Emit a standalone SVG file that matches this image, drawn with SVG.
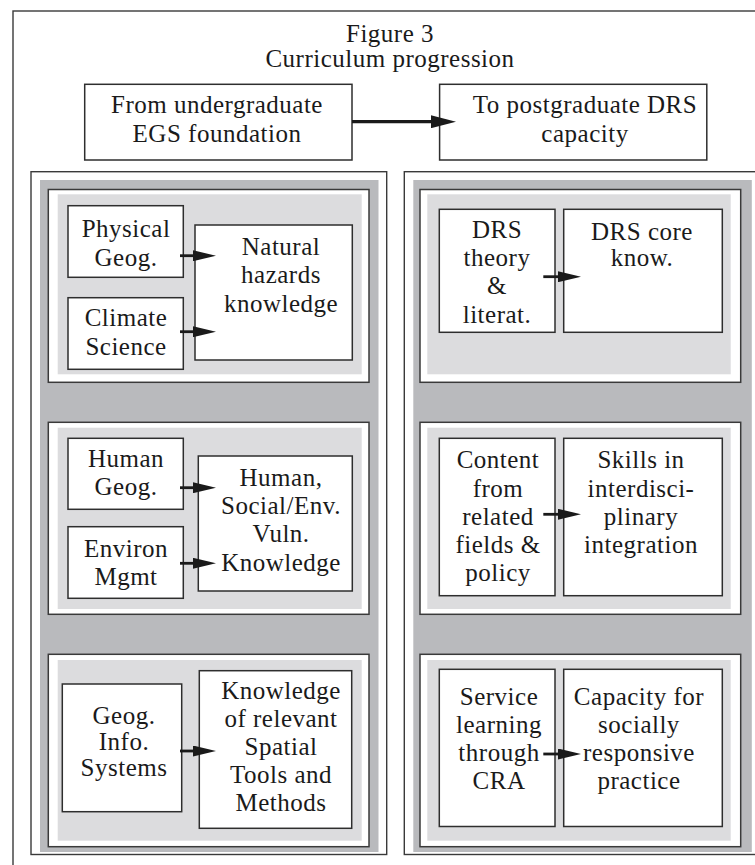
<svg xmlns="http://www.w3.org/2000/svg" width="755" height="865" viewBox="0 0 755 865">
<style>
  .frame { fill: #ffffff; stroke: #3a3a3a; stroke-width: 1.4; }
  .panel { fill: #ffffff; stroke: #3a3a3a; stroke-width: 1.4; }
  .gray { fill: #b9babd; stroke: none; }
  .sect { fill: #ffffff; stroke: #3a3a3a; stroke-width: 1.5; }
  .light { fill: #dcdcde; stroke: none; }
  .box { fill: #ffffff; stroke: #2e2e2e; stroke-width: 1.5; }
  text { font-family: "Liberation Serif", "Times New Roman", serif; font-size: 25px; fill: #1a1a1a; text-anchor: middle; letter-spacing: 0.5px; }
  .shaft { stroke: #1a1a1a; stroke-width: 2.8; fill: none; }
  .shaftTop { stroke: #1a1a1a; stroke-width: 3.2; fill: none; }
</style>
<defs>
  <marker id="ah" markerUnits="userSpaceOnUse" markerWidth="23" markerHeight="11" refX="11" refY="5.5" orient="auto">
    <path d="M0,0 L23,5.5 L0,11 Z" fill="#1a1a1a"/>
  </marker>
  <marker id="ahTop" markerUnits="userSpaceOnUse" markerWidth="25" markerHeight="13" refX="12" refY="6.5" orient="auto">
    <path d="M0,0 L25,6.5 L0,13 Z" fill="#1a1a1a"/>
  </marker>
</defs>

<rect class="frame" x="13" y="11" width="800" height="900"/>

<g id="title">
  <text x="390" y="42">Figure 3</text>
  <text x="390" y="67">Curriculum progression</text>
</g>

<g id="from-undergrad">
  <rect class="box" x="84.7" y="84.3" width="267.3" height="75.7"/>
  <text x="217" y="113">From undergraduate</text>
  <text x="217" y="142">EGS foundation</text>
</g>
<g id="to-postgrad">
  <rect class="box" x="439.6" y="84.3" width="267.2" height="75.7"/>
  <text x="585" y="113">To postgraduate DRS</text>
  <text x="585" y="142">capacity</text>
</g>

<g id="left-panel">
  <rect class="panel" x="31" y="171.7" width="355.7" height="682.8"/>
  <rect class="gray" x="40" y="180" width="338.5" height="672"/>
  <rect class="sect" x="48.3" y="189.5" width="320.7" height="192.8"/>
  <rect class="light" x="57.7" y="194.3" width="304" height="180"/>
  <rect class="sect" x="48.3" y="422.3" width="320.7" height="192"/>
  <rect class="light" x="57.7" y="427.7" width="304" height="181.3"/>
  <rect class="sect" x="48.3" y="654.3" width="320.7" height="192.4"/>
  <rect class="light" x="57.7" y="660" width="304" height="180.7"/>
</g>

<g id="right-panel">
  <rect class="panel" x="404.3" y="171.7" width="355.7" height="682.8"/>
  <rect class="gray" x="413.3" y="180" width="338.5" height="672"/>
  <rect class="sect" x="420" y="189.5" width="320.7" height="192.8"/>
  <rect class="light" x="427.3" y="194.3" width="303.4" height="180"/>
  <rect class="sect" x="420" y="422.3" width="320.7" height="192"/>
  <rect class="light" x="427.3" y="427.7" width="303.4" height="181.3"/>
  <rect class="sect" x="420" y="654.3" width="320.7" height="192.4"/>
  <rect class="light" x="427.3" y="660" width="303.4" height="180.7"/>
</g>

<g id="physical-geog">
  <rect class="box" x="68" y="205.7" width="115.3" height="71.6"/>
  <text x="126" y="237">Physical</text>
  <text x="126" y="266">Geog.</text>
</g>
<g id="climate-science">
  <rect class="box" x="68" y="297.7" width="115.3" height="71.6"/>
  <text x="126" y="326">Climate</text>
  <text x="126" y="354.5">Science</text>
</g>
<g id="natural-hazards">
  <rect class="box" x="195" y="225" width="157.3" height="135"/>
  <text x="281" y="254.5">Natural</text>
  <text x="281" y="283">hazards</text>
  <text x="281" y="311.7">knowledge</text>
</g>

<g id="human-geog">
  <rect class="box" x="68" y="438.3" width="115.3" height="71"/>
  <text x="126" y="466.5">Human</text>
  <text x="126" y="494.5">Geog.</text>
</g>
<g id="environ-mgmt">
  <rect class="box" x="68" y="526.7" width="115.3" height="71.6"/>
  <text x="126" y="556.5">Environ</text>
  <text x="126" y="585">Mgmt</text>
</g>
<g id="human-social">
  <rect class="box" x="198.3" y="456" width="154" height="135"/>
  <text x="281" y="486">Human,</text>
  <text x="281" y="514">Social/Env.</text>
  <text x="281" y="542">Vuln.</text>
  <text x="281" y="570.5">Knowledge</text>
</g>

<g id="gis">
  <rect class="box" x="62.3" y="684" width="119.4" height="127.7"/>
  <text x="124" y="724">Geog.</text>
  <text x="124" y="750">Info.</text>
  <text x="124" y="776">Systems</text>
</g>
<g id="spatial-tools">
  <rect class="box" x="199.3" y="670.7" width="152.4" height="157.6"/>
  <text x="281" y="699">Knowledge</text>
  <text x="281" y="727">of relevant</text>
  <text x="281" y="755">Spatial</text>
  <text x="281" y="783">Tools and</text>
  <text x="281" y="811">Methods</text>
</g>

<g id="drs-theory">
  <rect class="box" x="439.3" y="209.3" width="115.7" height="123"/>
  <text x="497" y="238">DRS</text>
  <text x="497" y="266">theory</text>
  <text x="497" y="294">&amp;</text>
  <text x="497" y="323">literat.</text>
</g>
<g id="drs-core">
  <rect class="box" x="563.7" y="209.3" width="158.6" height="123"/>
  <text x="642" y="240">DRS core</text>
  <text x="642" y="266">know.</text>
</g>

<g id="content-related">
  <rect class="box" x="439.3" y="438.3" width="115.7" height="157.4"/>
  <text x="498" y="468">Content</text>
  <text x="498" y="496.5">from</text>
  <text x="498" y="525">related</text>
  <text x="498" y="553">fields &amp;</text>
  <text x="498" y="580.5">policy</text>
</g>
<g id="skills">
  <rect class="box" x="563.7" y="438.3" width="158.6" height="157.4"/>
  <text x="641" y="468">Skills in</text>
  <text x="641" y="496.5">interdisci-</text>
  <text x="641" y="525">plinary</text>
  <text x="641" y="553">integration</text>
</g>

<g id="service-learning">
  <rect class="box" x="439.3" y="669.3" width="115.7" height="157.2"/>
  <text x="499" y="705">Service</text>
  <text x="499" y="733">learning</text>
  <text x="499" y="761">through</text>
  <text x="499" y="788.5">CRA</text>
</g>
<g id="capacity">
  <rect class="box" x="563.7" y="669.3" width="158.6" height="157.2"/>
  <text x="639" y="705">Capacity for</text>
  <text x="639" y="733">socially</text>
  <text x="639" y="761">responsive</text>
  <text x="639" y="788.5">practice</text>
</g>

<g id="connectors">
  <line class="shaftTop" x1="352" y1="121.7" x2="443" y2="121.7" marker-end="url(#ahTop)"/>
  <line class="shaft" x1="180" y1="255.7" x2="204" y2="255.7" marker-end="url(#ah)"/>
  <line class="shaft" x1="180" y1="331.7" x2="204" y2="331.7" marker-end="url(#ah)"/>
  <line class="shaft" x1="180" y1="487.7" x2="204" y2="487.7" marker-end="url(#ah)"/>
  <line class="shaft" x1="180" y1="563.3" x2="204" y2="563.3" marker-end="url(#ah)"/>
  <line class="shaft" x1="180" y1="751" x2="204" y2="751" marker-end="url(#ah)"/>
  <line class="shaft" x1="543.3" y1="276.7" x2="569" y2="276.7" marker-end="url(#ah)"/>
  <line class="shaft" x1="543.3" y1="514.3" x2="569" y2="514.3" marker-end="url(#ah)"/>
  <line class="shaft" x1="543.3" y1="754" x2="569" y2="754" marker-end="url(#ah)"/>
</g>
</svg>
